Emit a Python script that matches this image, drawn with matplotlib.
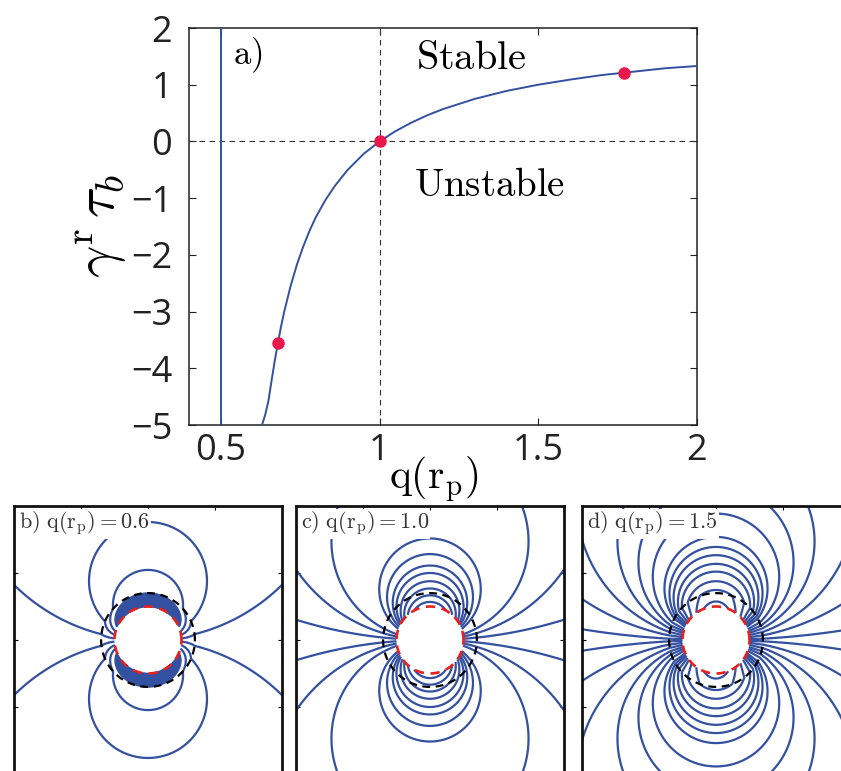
import numpy as np
import matplotlib
matplotlib.use("Agg")
import matplotlib.pyplot as plt

plt.rcParams["mathtext.fontset"] = "cm"
plt.rcParams["font.family"] = ["Open Sans", "DejaVu Sans"]

# ---- panel a: growth rate against q(r_p) ----
q_curve = [0.630, 0.640, 0.650, 0.660, 0.670, 0.680, 0.690, 0.700, 0.720, 0.740,
           0.760, 0.780, 0.800, 0.830, 0.860, 0.900, 0.950, 1.000, 1.050, 1.100,
           1.150, 1.200, 1.300, 1.400, 1.500, 1.600, 1.700, 1.800, 1.900, 2.000]
g_curve = [-5.00, -4.82, -4.58, -4.22, -3.87, -3.56, -3.26, -3.00, -2.55, -2.17,
           -1.85, -1.57, -1.33, -1.03, -0.78, -0.50, -0.22, 0.00, 0.18, 0.33,
           0.46, 0.57, 0.75, 0.89, 1.00, 1.09, 1.17, 1.23, 1.29, 1.33]
asym_q = [0.5, 0.5]
asym_g = [-5.0, 2.0]
marked_q = [0.68, 1.00, 1.77]
marked_g = [-3.56, 0.00, 1.20]

# ---- panels b-d: field lines around the pinned disc ----
panel_tags = ["b)", "c)", "d)"]
panel_q = [0.6, 1.0, 1.5]
panel_levels = [
    [0.088, 0.284, 0.478,
     0.74, 0.77, 0.80, 0.83, 0.86, 0.89, 0.92, 0.95, 0.98, 1.01, 1.04, 1.07,
     1.10, 1.13, 1.16, 1.19, 1.22, 1.25, 1.28, 1.31, 1.34, 1.37, 1.40, 1.43,
     1.46, 1.49, 1.52, 1.55, 1.58, 1.61, 1.64, 1.67, 1.70, 1.73, 1.76, 1.79,
     1.82, 1.85],
    [0.037, 0.103, 0.17, 0.33, 0.39, 0.45, 0.50, 0.57, 0.65, 0.75, 0.88],
    [0.02, 0.07, 0.12, 0.17, 0.216, 0.265, 0.325, 0.36, 0.395, 0.44, 0.49,
     0.57, 0.67, 0.77],
]
r_disc = 1.0
r_shell = 1.4
contrast_power = 3.0
half_width = 4.0

BLUE = "#3450a0"
DOT = "#e8174c"
INK = "#222222"

fig = plt.figure(figsize=(8.41, 7.71), dpi=100)

ax = fig.add_axes([189 / 841, 1 - 425 / 771, 508 / 841, 397 / 771])
ax.plot(asym_q, asym_g, color=BLUE, lw=1.4, zorder=3)
ax.plot(q_curve, g_curve, color=BLUE, lw=1.4, zorder=3)
ax.axhline(0, color="#333333", lw=0.8, ls=(0, (5, 4)), zorder=2)
ax.axvline(1, color="#333333", lw=0.8, ls=(0, (5, 4)), zorder=2)
ax.plot(marked_q, marked_g, "o", color=DOT, ms=8, mec=DOT, zorder=4)
ax.set_xlim(0.4, 2.0)
ax.set_ylim(-5, 2)
ax.set_xticks([0.5, 1, 1.5, 2])
ax.set_xticklabels(["0.5", "1", "1.5", "2"])
ax.set_yticks(range(-5, 3))
ax.tick_params(direction="in", top=True, right=True, length=5, width=0.8,
               labelsize=26, colors=INK)
ax.tick_params(axis="y", pad=12)
ax.tick_params(axis="x", pad=6)
for s in ax.spines.values():
    s.set_linewidth(1.1)
    s.set_color(INK)
ax.set_xlabel(r"$\mathrm{q(r_p)}$", fontsize=30)
ax.xaxis.set_label_coords(0.482, -0.074)
ax.set_ylabel(r"$\gamma^{\mathrm{r}}\,\tau_b$", fontsize=41)
ax.yaxis.set_label_coords(-0.118, 0.50)
ax.text(0.54, 1.52, r"$\mathrm{a)}$", fontsize=25, ha="left", va="center")
ax.text(1.29, 1.46, r"$\mathrm{Stable}$", fontsize=29, ha="center", va="center")
ax.text(1.347, -0.78, r"$\mathrm{Unstable}$", fontsize=28, ha="center", va="center")


def shell_flux(X, Y, q):
    """Stream function of a dipole source on the disc, refracted by a shell."""
    r = np.maximum(np.hypot(X, Y), 1e-9)
    k = q ** (-contrast_power)
    a = (1.0 - k) / (2.0 * r_shell ** 2)
    b = (1.0 + k) / 2.0
    h = np.where(r < r_shell, a * r + b / r, 1.0 / r)
    psi = Y / r * h
    return np.ma.masked_where(r < r_disc, psi)


g = np.linspace(-4.3, 4.3, 1401)
X, Y = np.meshgrid(g, g)
t = np.linspace(0, 2 * np.pi, 400)
size_w, size_h = 268 / 841, 268 / 771
lefts = [14 / 841, 296 / 841, 582 / 841]
top = 1 - 506 / 771

for tag, q, levs, left in zip(panel_tags, panel_q, panel_levels, lefts):
    axp = fig.add_axes([left, top - size_h, size_w, size_h])
    psi = shell_flux(X, Y, q)
    lv = sorted([-v for v in levs] + list(levs))
    axp.contour(X, Y, psi, levels=lv, colors=BLUE, linewidths=1.6,
                linestyles="solid")
    axp.plot(r_shell * np.cos(t), r_shell * np.sin(t), color="black", lw=1.6,
             ls=(0, (3.5, 2.5)))
    axp.plot(r_disc * np.cos(t), r_disc * np.sin(t), color="#e8201e", lw=1.9,
             ls=(0, (3.5, 2.5)))
    axp.set_xlim(-half_width, half_width)
    axp.set_ylim(-half_width, half_width)
    axp.set_xticks([-2, 0, 2])
    axp.set_yticks([-2, 0, 2])
    axp.tick_params(direction="in", top=True, right=True, bottom=False,
                    length=3, width=0.8, labelleft=False, labelbottom=False)
    for s in axp.spines.values():
        s.set_linewidth(2.0)
        s.set_color("#111111")
    axp.text(0.02, 0.985, r"$\mathrm{%s\ q(r_p) = %.1f}$" % (tag, q),
             transform=axp.transAxes, fontsize=16, ha="left", va="top",
             color="#333333",
             bbox=dict(facecolor="white", edgecolor="none", pad=0.5))

fig.savefig("out.png", dpi=100)
